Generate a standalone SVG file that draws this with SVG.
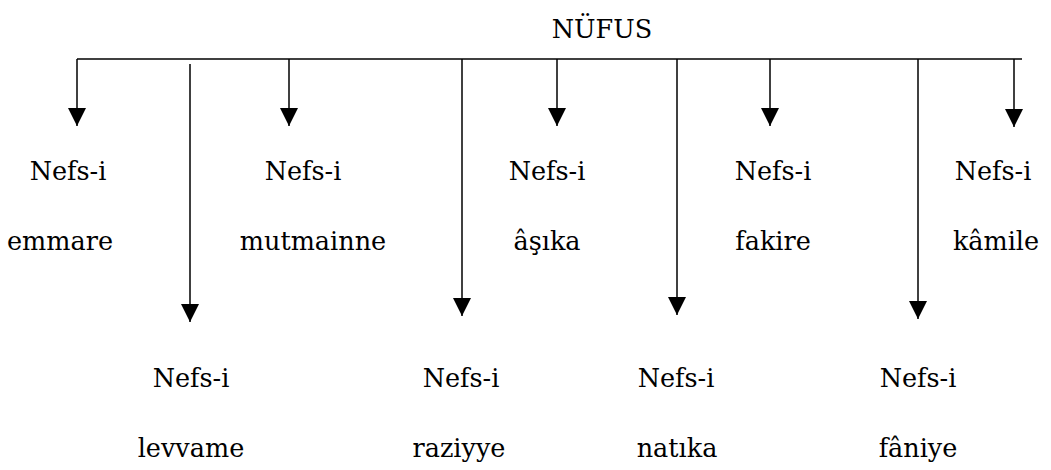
<svg xmlns="http://www.w3.org/2000/svg" width="1051" height="470" viewBox="0 0 1051 470">
<style>
text{font-family:"DejaVu Serif",serif;font-size:25.5px;fill:#000;text-anchor:middle}
.c line{stroke:#000;stroke-width:1.5}
</style>
<defs>
<marker id="ah" markerUnits="userSpaceOnUse" markerWidth="18" markerHeight="18" viewBox="0 0 16 16" refX="16" refY="8" orient="auto">
<path d="M0,0 L16,8 L0,16 Z" fill="#000"/>
</marker>
</defs>
<rect width="1051" height="470" fill="#fff"/>
<g id="root"><text x="602" y="38">NÜFUS</text></g>
<g class="c" id="connectors">
<line x1="77" y1="59" x2="1022" y2="59"/>
<line x1="77" y1="59" x2="77" y2="126" marker-end="url(#ah)"/>
<line x1="190" y1="64" x2="190" y2="322" marker-end="url(#ah)"/>
<line x1="289" y1="59" x2="289" y2="126" marker-end="url(#ah)"/>
<line x1="462" y1="59" x2="462" y2="316" marker-end="url(#ah)"/>
<line x1="557" y1="59" x2="557" y2="126" marker-end="url(#ah)"/>
<line x1="677" y1="59" x2="677" y2="315" marker-end="url(#ah)"/>
<line x1="770" y1="59" x2="770" y2="126" marker-end="url(#ah)"/>
<line x1="918" y1="59" x2="918" y2="319" marker-end="url(#ah)"/>
<line x1="1014" y1="59" x2="1014" y2="127" marker-end="url(#ah)"/>
</g>
<g id="emmare"><text x="68" y="180">Nefs-i</text><text x="60" y="250">emmare</text></g>
<g id="levvame"><text x="191" y="387">Nefs-i</text><text x="191" y="457">levvame</text></g>
<g id="mutmainne"><text x="303" y="180">Nefs-i</text><text x="313" y="250">mutmainne</text></g>
<g id="raziyye"><text x="461" y="387">Nefs-i</text><text x="459" y="457">raziyye</text></g>
<g id="asika"><text x="547" y="180">Nefs-i</text><text x="547" y="250">âşıka</text></g>
<g id="natika"><text x="676" y="387">Nefs-i</text><text x="677" y="457">natıka</text></g>
<g id="fakire"><text x="773" y="180">Nefs-i</text><text x="773" y="250">fakire</text></g>
<g id="faniye"><text x="918" y="387">Nefs-i</text><text x="918" y="457">fâniye</text></g>
<g id="kamile"><text x="993" y="180">Nefs-i</text><text x="996" y="250">kâmile</text></g>
</svg>
